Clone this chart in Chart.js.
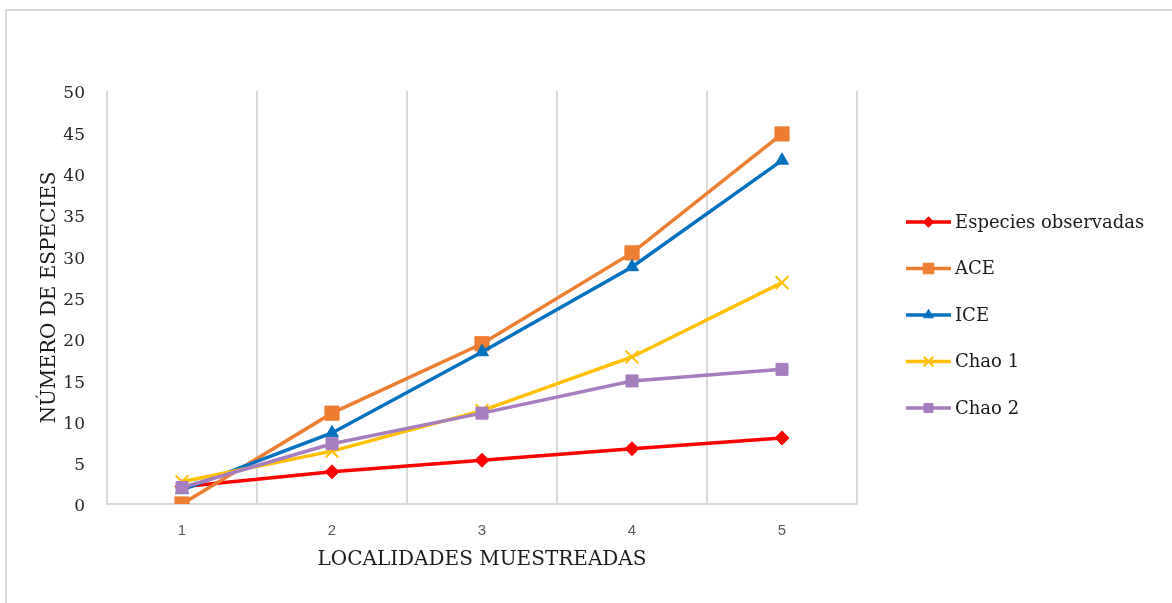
<!DOCTYPE html>
<html>
<head>
<meta charset="utf-8">
<script src="https://cdn.jsdelivr.net/npm/chart.js@4/dist/chart.umd.min.js"></script>
<style>
  html, body { margin: 0; padding: 0; background: #fff; }
  #wrap { width: 1172px; height: 603px; }
</style>
</head>
<body>
<div id="wrap"><canvas id="riqueza" width="1172" height="603"></canvas></div>
<script>
// datos
var localidades = ['1', '2', '3', '4', '5'];
var observadas = [2.1, 3.9, 5.3, 6.7, 8.0];
var ace = [0.0, 11.0, 19.4, 30.4, 44.8];
var ice = [1.7, 8.6, 18.4, 28.7, 41.6];
var chao1 = [2.7, 6.4, 11.3, 17.8, 26.8];
var chao2 = [2.0, 7.3, 11.0, 14.9, 16.3];
var yTicks = [0, 5, 10, 15, 20, 25, 30, 35, 40, 45, 50];

var serif = "'DejaVu Serif', serif";

function serie(label, data, color, style, radius, order) {
    return {
        label: label,
        data: data,
        borderColor: color,
        backgroundColor: color,
        borderWidth: 3.5,
        pointStyle: style,
        pointRadius: radius,
        pointBorderWidth: style === 'crossRot' ? 2 : 1,
        pointBorderColor: color,
        pointBackgroundColor: color,
        order: order,
        tension: 0
    };
}

var datasets = [
    serie('Especies observadas', observadas, '#FF0000', 'rectRot', 7, 5),
    serie('ACE', ace, '#ED7D31', 'rect', 10, 4),
    serie('ICE', ice, '#0070C0', 'triangle', 7.5, 3),
    serie('Chao 1', chao1, '#FFC000', 'crossRot', 9, 2),
    serie('Chao 2', chao2, '#A67DBF', 'rect', 8.5, 1)
];

// marco gris de la imagen + leyenda con linea y marcador
var decor = {
    id: 'decor',
    beforeDraw: function (chart) {
        var c = chart.ctx;
        c.save();
        c.strokeStyle = '#d9d9d9';
        c.lineWidth = 2;
        c.strokeRect(6, 10, 3000, 3000);
        c.restore();
    },
    afterDraw: function (chart) {
        var c = chart.ctx;
        var x0 = chart.chartArea.right + 49;
        var y0 = 222;
        var gap = 46.5;
        c.save();
        chart.data.datasets.forEach(function (ds, i) {
            var y = y0 + i * gap;
            c.strokeStyle = ds.borderColor;
            c.fillStyle = ds.borderColor;
            c.lineWidth = 3.5;
            c.beginPath();
            c.moveTo(x0, y);
            c.lineTo(x0 + 45, y);
            c.stroke();
            c.lineWidth = ds.pointBorderWidth;
            Chart.helpers.drawPoint(c, {
                pointStyle: ds.pointStyle,
                radius: ds.pointRadius * 0.75,
                rotation: 0,
                borderWidth: ds.pointBorderWidth
            }, x0 + 22.5, y);
            c.fillStyle = '#1a1a1a';
            c.font = '18px ' + serif;
            c.textBaseline = 'middle';
            c.textAlign = 'left';
            c.fillText(ds.label, x0 + 49, y + 1);
        });
        c.restore();
    }
};

var ctx = document.getElementById('riqueza').getContext('2d');
var chart = new Chart(ctx, {
    type: 'line',
    data: { labels: localidades, datasets: datasets },
    options: {
        responsive: false,
        animation: false,
        layout: { padding: { top: 91, right: 315, bottom: 0, left: 0 } },
        plugins: { legend: { display: false }, tooltip: { enabled: false } },
        scales: {
            x: {
                type: 'category',
                offset: true,
                grid: { offset: true, color: '#d9d9d9', lineWidth: 2, drawTicks: false },
                border: { display: true, color: '#d9d9d9', width: 2 },
                ticks: { color: '#595959', padding: 18, font: { family: "'Liberation Sans', sans-serif", size: 15 } },
                title: {
                    display: true,
                    text: 'LOCALIDADES MUESTREADAS',
                    color: '#1a1a1a',
                    font: { family: serif, size: 20 },
                    padding: { top: 0, bottom: 31 }
                },
                afterFit: function (s) { s.height = 99; }
            },
            y: {
                min: 0,
                max: 50,
                grid: { display: false, drawTicks: false },
                border: { display: false },
                afterBuildTicks: function (s) {
                    s.ticks = yTicks.map(function (v) { return { value: v }; });
                },
                ticks: { color: '#262626', padding: 22, labelOffset: 3, font: { family: serif, size: 17 } },
                title: {
                    display: true,
                    text: 'NÚMERO DE ESPECIES',
                    color: '#1a1a1a',
                    font: { family: serif, size: 20 },
                    padding: { top: 38, bottom: 0 }
                },
                afterFit: function (s) { s.width = 107; }
            }
        }
    },
    plugins: [decor]
});
</script>
</body>
</html>
